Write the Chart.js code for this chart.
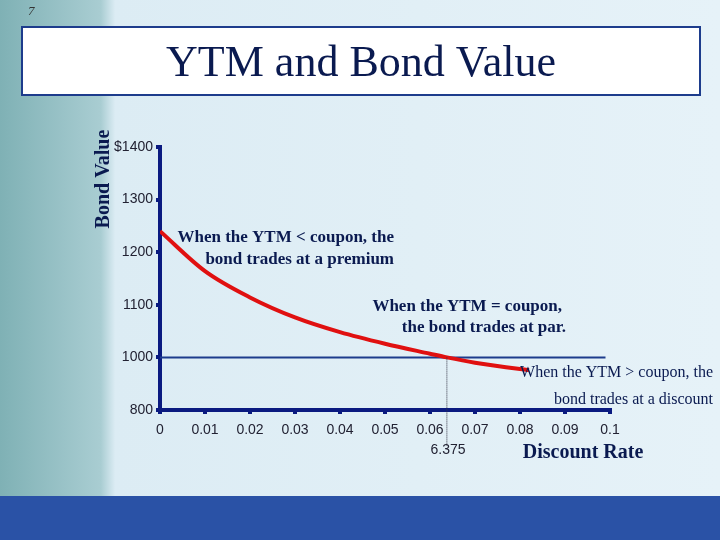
<!DOCTYPE html>
<html><head><meta charset="utf-8">
<script src="https://cdn.jsdelivr.net/npm/chart.js@4"></script>
<style>body{margin:0;background:#fff}canvas{display:block}</style>
</head><body>
<canvas id="c" width="720" height="540"></canvas>
<script>
// Discount rate vs bond value (y axis is broken: 900 position is labelled 800)
const rates = [0, 0.01, 0.02, 0.03, 0.04, 0.05, 0.06, 0.06375, 0.07, 0.08, 0.082];
const values = [1240, 1164, 1114, 1076, 1048, 1026, 1007, 1000, 990, 978, 976];
const parLine = [[0, 1000], [0.099, 1000]];
const parRate = 0.06375;
const yTicks = [900, 1000, 1100, 1200, 1300, 1400];
const yLabels = {900: '800', 1000: '1000', 1100: '1100', 1200: '1200', 1300: '1300', 1400: '$1400'};

const navy = '#0a1a80';

const bg = {
  id: 'bg',
  beforeDraw(chart) {
    const c = chart.ctx;
    const g = c.createLinearGradient(0, 0, 720, 0);
    g.addColorStop(0, '#7fb1b5');
    g.addColorStop(0.14, '#a9cdd2');
    g.addColorStop(0.16, '#dcecf4');
    g.addColorStop(1, '#e6f2f8');
    c.fillStyle = g;
    c.fillRect(0, 0, 720, 540);
    c.fillStyle = '#2a52a6';
    c.fillRect(0, 496, 720, 44);
    c.fillStyle = '#fff';
    c.fillRect(22, 27, 678, 68);
    c.strokeStyle = '#1d3c8c';
    c.lineWidth = 2;
    c.strokeRect(22, 27, 678, 68);
    c.fillStyle = '#0a1a50';
    c.font = '44px "Liberation Serif"';
    c.textAlign = 'center';
    c.textBaseline = 'middle';
    c.fillText('YTM and Bond Value', 361, 64);
    c.font = 'italic 13px "Liberation Serif"';
    c.textAlign = 'left';
    c.fillStyle = '#333';
    c.fillText('7', 28, 12);
  },
  afterDatasetsDraw(chart) {
    const c = chart.ctx, x = chart.scales.x, y = chart.scales.y;
    c.save();
    c.strokeStyle = '#334';
    c.lineWidth = 1;
    c.setLineDash([1, 1]);
    const px = x.getPixelForValue(parRate);
    c.beginPath(); c.moveTo(px, y.getPixelForValue(1000)); c.lineTo(px, 446); c.stroke();
    c.setLineDash([]);
    c.fillStyle = '#0a1a50';
    c.font = 'bold 17px "Liberation Serif"';
    c.textAlign = 'right';
    c.textBaseline = 'middle';
    c.fillText('When the YTM < coupon, the', 394, 238);
    c.fillText('bond trades at a premium', 394, 260);
    c.fillText('When the YTM = coupon,', 562, 307);
    c.fillText('the bond trades at par.', 566, 328);
    c.font = '16px "Liberation Serif"';
    c.fillText('When the YTM > coupon, the', 713, 373);
    c.fillText('bond trades at a discount', 713, 400);
    c.font = 'bold 20px "Liberation Serif"';
    c.textAlign = 'center';
    c.fillText('Discount Rate', 583, 453);
    c.font = '14px "Liberation Sans"';
    c.fillStyle = '#223';
    c.fillText('6.375', 448, 450);
    c.translate(104, 179);
    c.rotate(-Math.PI / 2);
    c.font = 'bold 20px "Liberation Serif"';
    c.fillStyle = '#0a1a50';
    c.fillText('Bond Value', 0, 0);
    c.restore();
  }
};

new Chart(document.getElementById('c'), {
  type: 'scatter',
  data: {
    datasets: [
      { data: rates.map((r, i) => ({x: r, y: values[i]})), showLine: true, borderColor: '#e01010',
        borderWidth: 4, pointRadius: 0, cubicInterpolationMode: 'monotone' },
      { data: parLine.map(p => ({x: p[0], y: p[1]})), showLine: true, borderColor: '#1d3c8c',
        borderWidth: 2, pointRadius: 0 }
    ]
  },
  plugins: [bg],
  options: {
    responsive: false,
    animation: false,
    layout: { padding: { top: 147, right: 110, left: 0, bottom: 0 } },
    plugins: { legend: { display: false }, tooltip: { enabled: false } },
    scales: {
      x: {
        type: 'linear', min: 0, max: 0.1,
        afterFit(s) { s.height = 130; },
        afterBuildTicks(s) { s.ticks = Array.from({length: 11}, (_, i) => ({value: i / 100})); },
        grid: { drawOnChartArea: false, drawTicks: true, tickLength: 4, color: navy, lineWidth: 4 },
        border: { color: navy, width: 4 },
        ticks: { color: '#223', font: { family: 'Liberation Sans', size: 14 }, padding: 8,
          callback: v => v === 0 ? '0' : String(Math.round(v * 100) / 100) }
      },
      y: {
        min: 900, max: 1400,
        afterFit(s) { s.width = 160; },
        afterBuildTicks(s) { s.ticks = yTicks.map(v => ({value: v})); },
        grid: { drawOnChartArea: false, drawTicks: true, tickLength: 4, color: navy, lineWidth: 4 },
        border: { color: navy, width: 4 },
        ticks: { color: '#223', font: { family: 'Liberation Sans', size: 14 }, padding: 3,
          callback: v => yLabels[v] }
      }
    }
  }
});
</script>
</body></html>
